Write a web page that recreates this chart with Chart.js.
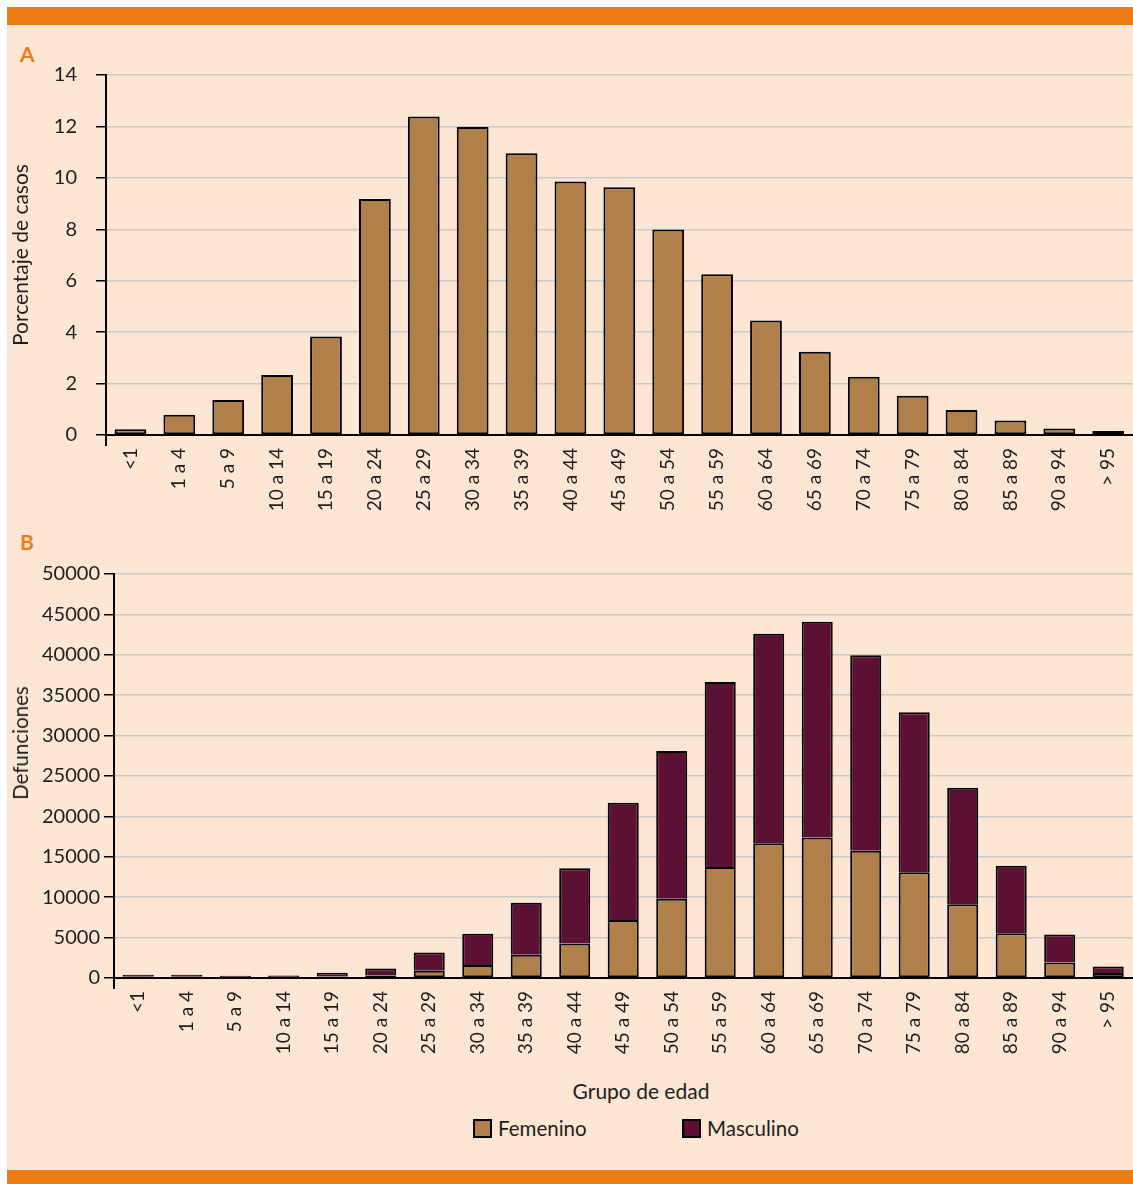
<!DOCTYPE html>
<html>
<head>
<meta charset="utf-8">
<script src="https://cdn.jsdelivr.net/npm/chart.js@4.4.1/dist/chart.umd.min.js"></script>
<style>
  body { margin: 0; width: 1133px; height: 1184px; position: relative; overflow: hidden; background: #fff; font-family: Lato, sans-serif; color: #1e1e1e; }
  #panel { position: absolute; left: 7px; top: 7px; width: 1126px; height: 1177px; background: #fde6d4; }
  .strip { position: absolute; left: 7px; width: 1126px; background: #ef7b16; }
  .letter { position: absolute; left: 20px; color: #ef7b16; font-weight: bold; font-size: 21px; }
  .wrap { position: absolute; left: 0; width: 1133px; }
  .vtitle { position: absolute; white-space: nowrap; font-size: 20.5px; transform: translate(-50%, -50%) rotate(-90deg); }
  .legend { position: absolute; top: 1128px; font-size: 20.5px; display: flex; align-items: center; transform: translateY(-50%); }
  .legend span.box { display: inline-block; width: 15px; height: 15px; border: 2px solid #000; margin-right: 6px; }
</style>
</head>
<body>
<div id="panel"></div>
<div class="strip" style="top:7px;height:18px"></div>
<div class="strip" style="top:1170px;height:14px"></div>
<div class="letter" style="top:41px">A</div>
<div class="letter" style="top:529px">B</div>

<div class="wrap" style="top:44px;height:481px"><canvas id="chartA"></canvas></div>
<div class="wrap" style="top:558px;height:507px"><canvas id="chartB"></canvas></div>

<div class="vtitle" style="left:20px;top:743px">Defunciones</div>
<div style="position:absolute;left:641px;top:1090px;transform:translate(-50%,-50%);font-size:21px;white-space:nowrap">Grupo de edad</div>
<div class="legend" style="left:473px"><span class="box" style="background:#b07f4a"></span>Femenino</div>
<div class="legend" style="left:682px"><span class="box" style="background:#5c1033"></span>Masculino</div>

<script>
const grupos = ['<1', '1 a 4', '5 a 9', '10 a 14', '15 a 19', '20 a 24', '25 a 29', '30 a 34', '35 a 39', '40 a 44', '45 a 49',
  '50 a 54', '55 a 59', '60 a 64', '65 a 69', '70 a 74', '75 a 79', '80 a 84', '85 a 89', '90 a 94', '> 95'];

// A: porcentaje de casos
const porcentajeCasos = [0.22, 0.79, 1.36, 2.33, 3.83, 9.18, 12.39, 11.98, 10.96, 9.86, 9.63,
  7.99, 6.25, 4.45, 3.24, 2.27, 1.53, 0.97, 0.56, 0.25, 0.16];

// B: defunciones por sexo
const defFemenino = [150, 150, 100, 100, 200, 300, 900, 1600, 2870, 4260, 7180,
  9800, 13740, 16690, 17390, 15750, 13080, 9140, 5540, 1920, 620];
const defMasculino = [250, 250, 180, 200, 450, 880, 2250, 3890, 6430, 9320, 14520,
  18300, 22890, 25900, 26710, 24200, 19820, 14400, 8360, 3450, 810];

const yMaxA = 14, stepA = 2;
const yMaxB = 50000, stepB = 5000;

const colFem = '#b07f4a';
const colMasc = '#5c1033';
const txt = '#1e1e1e';
const gridCol = '#cacaca';

function xAxis(height) {
  return {
    offset: true,
    grid: {
      color: 'transparent',
      tickColor: ctx => ctx.index === 0 ? '#000' : 'transparent',
      tickLength: 11,
      lineWidth: 2
    },
    border: { color: '#000', width: 2 },
    ticks: { color: txt, font: { family: 'Lato', size: 19 }, minRotation: 90, maxRotation: 90, autoSkip: false, padding: 2 },
    afterFit: s => { s.height = height; }
  };
}

function yAxis(max, step, width, pad) {
  return {
    min: 0,
    max: max,
    grid: { color: gridCol, lineWidth: 1.5, tickColor: '#000', tickLength: 10 },
    border: { color: '#000', width: 2 },
    ticks: { stepSize: step, color: txt, font: { family: 'Lato', size: 20 }, padding: pad, callback: v => String(v) },
    afterFit: s => { s.width = width; }
  };
}

const yA = yAxis(yMaxA, stepA, 106, 19);
yA.title = { display: true, text: 'Porcentaje de casos', color: txt, font: { family: 'Lato', size: 21 }, padding: { top: 9, bottom: 0 } };

new Chart(document.getElementById('chartA'), {
  type: 'bar',
  data: {
    labels: grupos,
    datasets: [{
      label: 'Porcentaje de casos',
      data: porcentajeCasos,
      backgroundColor: colFem,
      borderColor: '#000',
      borderWidth: 2,
      borderSkipped: false,
      barPercentage: 0.65,
      categoryPercentage: 1
    }]
  },
  options: {
    responsive: true,
    maintainAspectRatio: false,
    animation: false,
    layout: { padding: { top: 14, left: 0, right: 0, bottom: 0 } },
    plugins: { legend: { display: false }, tooltip: { enabled: false } },
    scales: { x: xAxis(90), y: yA }
  }
});

new Chart(document.getElementById('chartB'), {
  type: 'bar',
  data: {
    labels: grupos,
    datasets: [
      { label: 'Femenino', data: defFemenino, backgroundColor: colFem, borderColor: '#000', borderWidth: 2, borderSkipped: false, barPercentage: 0.64, categoryPercentage: 1 },
      { label: 'Masculino', data: defMasculino, backgroundColor: colMasc, borderColor: '#000', borderWidth: 2, borderSkipped: 'bottom', barPercentage: 0.64, categoryPercentage: 1 }
    ]
  },
  options: {
    responsive: true,
    maintainAspectRatio: false,
    animation: false,
    layout: { padding: { top: 13, left: 0, right: 0, bottom: 0 } },
    plugins: { legend: { display: false }, tooltip: { enabled: false } },
    scales: {
      x: Object.assign(xAxis(87), { stacked: true }),
      y: Object.assign(yAxis(yMaxB, stepB, 114, 4), { stacked: true })
    }
  }
});
</script>
</body>
</html>
